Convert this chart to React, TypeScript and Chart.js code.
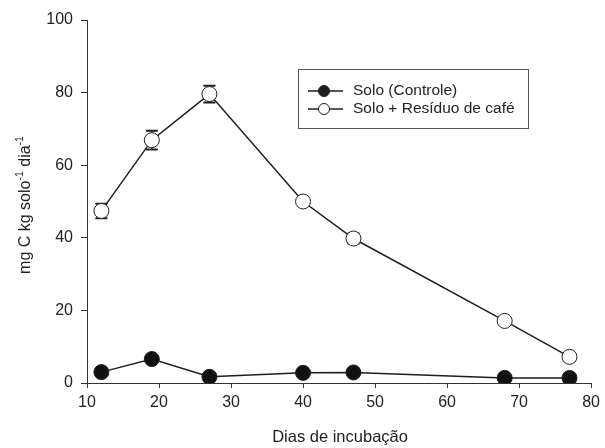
import React, { useEffect, useRef } from "react";
import { Chart, registerables } from "chart.js";

Chart.register(...registerables);

const xDays = [12, 19, 27, 40, 47, 68, 77];
const controleLabel = "Solo (Controle)";
const residuoLabel = "Solo + Resíduo de café";
const controle = [3.0, 6.6, 1.7, 2.8, 2.9, 1.4, 1.4];
const controleErr = [0.4, 0.5, 0.3, 0.3, 0.3, 0.2, 0.2];
const residuo = [47.4, 66.9, 79.6, 50.0, 39.8, 17.1, 7.2];
const residuoErr = [2.0, 2.6, 2.3, 0.8, 1.4, 0.6, 0.5];
const xTicks = [10, 20, 30, 40, 50, 60, 70, 80];
const yTicks = [0, 20, 40, 60, 80, 100];

const FONT = "'Liberation Sans', Arial, sans-serif";
const TEXT = "#222";
const LINE = "#1e1e1e";

const errorBarPlugin = {
  id: "errorBars",
  beforeDatasetsDraw(chart: any) {
    const ctx = chart.ctx;
    const xs = chart.scales.x;
    const ys = chart.scales.y;
    const sets = [
      { v: controle, e: controleErr },
      { v: residuo, e: residuoErr },
    ];
    ctx.save();
    ctx.strokeStyle = LINE;
    sets.forEach((s) => {
      s.v.forEach((val, i) => {
        const px = xs.getPixelForValue(xDays[i]);
        const top = ys.getPixelForValue(val + s.e[i]);
        const bot = ys.getPixelForValue(val - s.e[i]);
        ctx.lineWidth = 1.2;
        ctx.beginPath();
        ctx.moveTo(px, top);
        ctx.lineTo(px, bot);
        ctx.stroke();
        ctx.lineWidth = 2;
        ctx.beginPath();
        ctx.moveTo(px - 6, top);
        ctx.lineTo(px + 6, top);
        ctx.moveTo(px - 6, bot);
        ctx.lineTo(px + 6, bot);
        ctx.stroke();
      });
    });
    ctx.restore();
  },
};

const decorPlugin = {
  id: "decor",
  afterDraw(chart: any) {
    const ctx = chart.ctx;
    const area = chart.chartArea;
    ctx.save();
    // legend box
    const bx = 298, by = 69, bw = 230, bh = 59;
    ctx.strokeStyle = "#555";
    ctx.lineWidth = 1;
    ctx.strokeRect(bx + 0.5, by + 0.5, bw, bh);
    const rows = [
      { label: chart.data.datasets[0].label, fill: LINE, y: 91 },
      { label: chart.data.datasets[1].label, fill: "#fff", y: 109 },
    ];
    rows.forEach((r) => {
      ctx.strokeStyle = LINE;
      ctx.lineWidth = 1.3;
      ctx.beginPath();
      ctx.moveTo(308, r.y);
      ctx.lineTo(343, r.y);
      ctx.stroke();
      ctx.beginPath();
      ctx.arc(324, r.y, 5.5, 0, Math.PI * 2);
      ctx.fillStyle = r.fill;
      ctx.fill();
      ctx.lineWidth = 1;
      ctx.stroke();
      ctx.fillStyle = TEXT;
      ctx.font = `15.5px ${FONT}`;
      ctx.textBaseline = "middle";
      ctx.textAlign = "left";
      ctx.fillText(r.label, 353, r.y);
    });

    // x title
    ctx.fillStyle = TEXT;
    ctx.font = `16.5px ${FONT}`;
    ctx.textAlign = "center";
    ctx.textBaseline = "middle";
    ctx.fillText("Dias de incubação", (area.left + area.right) / 2 + 1, 437);

    // y title with superscripts
    const parts = [
      { t: "mg C kg solo", sup: false },
      { t: "-1", sup: true },
      { t: " dia", sup: false },
      { t: "-1", sup: true },
    ];
    const main = `16px ${FONT}`;
    const small = `10.5px ${FONT}`;
    let total = 0;
    parts.forEach((p) => {
      ctx.font = p.sup ? small : main;
      total += ctx.measureText(p.t).width;
    });
    ctx.translate(26, 205);
    ctx.rotate(-Math.PI / 2);
    ctx.textAlign = "left";
    ctx.textBaseline = "middle";
    let cx = -total / 2;
    parts.forEach((p) => {
      ctx.font = p.sup ? small : main;
      ctx.fillText(p.t, cx, p.sup ? -6 : 0);
      cx += ctx.measureText(p.t).width;
    });
    ctx.restore();
  },
};

export default function App() {
  const ref = useRef<HTMLCanvasElement | null>(null);
  useEffect(() => {
    document.body.style.margin = "0";
    document.body.style.background = "#fff";
    if (!ref.current) return;
    const chart = new Chart(ref.current, {
      type: "line",
      data: {
        datasets: [
          {
            label: controleLabel,
            data: xDays.map((x, i) => ({ x, y: controle[i] })),
            borderColor: LINE,
            backgroundColor: LINE,
            borderWidth: 1.5,
            pointRadius: 7.5,
            pointBorderWidth: 1,
            pointBorderColor: LINE,
            pointBackgroundColor: "#111",
            tension: 0,
          },
          {
            label: residuoLabel,
            data: xDays.map((x, i) => ({ x, y: residuo[i] })),
            borderColor: LINE,
            backgroundColor: "#fff",
            borderWidth: 1.5,
            pointRadius: 7.5,
            pointBorderWidth: 1,
            pointBorderColor: LINE,
            pointBackgroundColor: "#fff",
            tension: 0,
          },
        ],
      },
      options: {
        animation: false,
        responsive: false,
        maintainAspectRatio: false,
        layout: { padding: { top: 20, right: 13, left: 0, bottom: 0 } },
        plugins: {
          legend: { display: false },
          tooltip: { enabled: false },
        },
        scales: {
          x: {
            type: "linear",
            min: 10,
            max: 80,
            afterFit: (s: any) => {
              s.height = 65;
            },
            afterBuildTicks: (s: any) => {
              s.ticks = xTicks.map((v) => ({ value: v }));
            },
            ticks: {
              color: TEXT,
              font: { family: FONT, size: 16 },
              padding: 5,
              maxRotation: 0,
            },
            grid: {
              drawOnChartArea: false,
              drawTicks: true,
              tickLength: 5,
              color: "#333",
            },
            border: { display: true, color: "#333", width: 1 },
          },
          y: {
            min: 0,
            max: 100,
            afterFit: (s: any) => {
              s.width = 87;
            },
            afterBuildTicks: (s: any) => {
              s.ticks = yTicks.map((v) => ({ value: v }));
            },
            ticks: {
              color: TEXT,
              font: { family: FONT, size: 16 },
              padding: 8,
            },
            grid: {
              drawOnChartArea: false,
              drawTicks: true,
              tickLength: 6,
              color: "#333",
            },
            border: { display: true, color: "#333", width: 1 },
          },
        },
      },
      plugins: [errorBarPlugin, decorPlugin],
    });
    return () => chart.destroy();
  }, []);
  return (
    <div style={{ width: 605, height: 448, background: "#fff" }}>
      <canvas ref={ref} width={605} height={448} style={{ display: "block" }} />
    </div>
  );
}
